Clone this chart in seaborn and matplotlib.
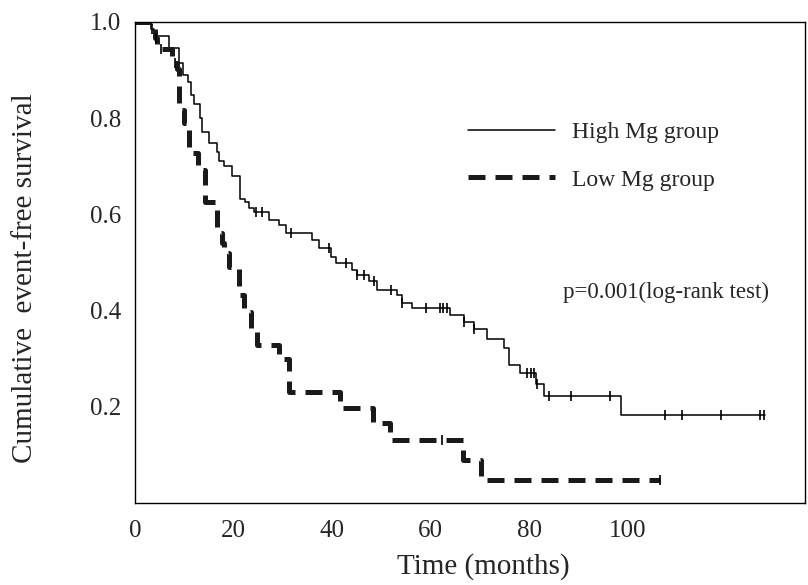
import matplotlib
matplotlib.use("Agg")
import matplotlib.pyplot as plt
import seaborn as sns
import pandas as pd
import numpy as np

# Kaplan-Meier step points (months, survival after the drop)
hi_times = [0, 3.2, 3.8, 6.9, 8.9, 9.8, 10.8, 11.3, 12.0, 13.2, 13.7, 15.1, 16.7, 17.0,
            18.0, 19.7, 21.4, 22.4, 23.1, 24.1, 27.2, 29.2, 30.6, 36.0, 37.3, 39.8, 40.8,
            44.0, 45.0, 47.4, 49.1, 53.2, 54.2, 56.2, 64.0, 66.7, 68.8, 71.4, 74.8, 75.9,
            78.2, 81.3, 83.0, 98.7]
hi_surv = [1.0, 0.985, 0.97, 0.945, 0.914, 0.89, 0.876, 0.848, 0.83, 0.80, 0.772, 0.748,
           0.73, 0.71, 0.70, 0.68, 0.633, 0.626, 0.613, 0.606, 0.588, 0.577, 0.561, 0.547,
           0.530, 0.512, 0.498, 0.484, 0.474, 0.462, 0.443, 0.432, 0.415, 0.405, 0.391,
           0.376, 0.361, 0.341, 0.322, 0.286, 0.270, 0.247, 0.222, 0.183]
hi_end = 127.8
hi_censored = [3.5, 24.5, 25.7, 31.6, 39.4, 42.9, 45.1, 46.4, 48.6, 51.9, 54.2, 59.0, 62.0,
               62.6, 63.3, 66.7, 68.9, 79.6, 80.3, 81.0, 81.6, 84.1, 88.6, 96.5, 107.6,
               111.0, 119.0, 126.9, 127.6]

lo_times = [0, 4.0, 4.5, 7.6, 8.6, 8.9, 9.9, 11.0, 12.8, 14.3, 16.7, 17.7, 18.0, 19.0,
            21.1, 22.2, 23.5, 24.8, 29.2, 31.2, 41.7, 48.3, 51.8, 66.6, 70.3]
lo_surv = [1.0, 0.966, 0.944, 0.914, 0.903, 0.817, 0.789, 0.727, 0.692, 0.626, 0.561,
           0.54, 0.519, 0.49, 0.432, 0.398, 0.363, 0.328, 0.30, 0.231, 0.197, 0.166,
           0.131, 0.089, 0.048]
lo_end = 106.6
lo_censored = [4.2, 5.2, 8.2, 62.3, 106.6]

groups = ["High Mg group", "Low Mg group"]
x_ticks = [0, 20, 40, 60, 80, 100]
y_ticks = [0.0, 0.2, 0.4, 0.6, 0.8, 1.0]
y_ticklabels = ["", "0.2", "0.4", "0.6", "0.8", "1.0"]


def step_frame(times, surv, end):
    # add the last follow-up point so the final plateau is drawn
    return pd.DataFrame({"time": list(times) + [end], "surv": list(surv) + [surv[-1]]})


def surv_at(times, surv, t):
    idx = np.searchsorted(np.array(times), np.array(t), side="right") - 1
    return np.array(surv)[idx]


sns.set_style("white")
plt.rcParams["font.family"] = ["Liberation Serif", "DejaVu Serif"]

fig = plt.figure(figsize=(8.08, 5.85), dpi=100)
ax = fig.add_axes([135 / 808, 82 / 585, 670 / 808, 481 / 585])

hi_df = step_frame(hi_times, hi_surv, hi_end)
lo_df = step_frame(lo_times, lo_surv, lo_end)

sns.lineplot(data=hi_df, x="time", y="surv", ax=ax, color="black", lw=1.1,
             drawstyle="steps-post", estimator=None, sort=False, label=groups[0])
sns.lineplot(data=lo_df, x="time", y="surv", ax=ax, color="#1a1a1a", lw=3.6,
             drawstyle="steps-post", estimator=None, sort=False, label=groups[1],
             linestyle=(0, (3.4, 2.0)))

# censoring marks
ax.plot(hi_censored, surv_at(hi_times, hi_surv, hi_censored), ls="none", marker="|",
        ms=7, mew=1.2, color="black")
ax.plot(lo_censored, surv_at(lo_times, lo_surv, lo_censored), ls="none", marker="|",
        ms=7, mew=1.2, color="black")

ax.set_xlim(0, 136)
ax.set_ylim(0, 1.0)
ax.set_xticks(x_ticks)
ax.set_yticks(y_ticks)
ax.set_yticklabels(y_ticklabels)
ax.tick_params(axis="x", direction="in", length=4, width=0.8, labelsize=18, pad=12)
ax.tick_params(axis="y", direction="out", length=4, width=0.8, labelsize=18, pad=6)
for sp in ax.spines.values():
    sp.set_color("black")
    sp.set_linewidth(1.0)

ax.set_xlabel("Time (months)", fontsize=21)
ax.set_ylabel("Cumulative  event-free survival", fontsize=21)
ax.xaxis.set_label_coords(0.52, -0.105)
ax.yaxis.set_label_coords(-0.145, 0.468)

leg = ax.legend(loc="upper left", bbox_to_anchor=(0.497, 0.793), frameon=False,
                fontsize=17, handlelength=3.7, handletextpad=0.7, labelspacing=1.1,
                borderpad=0, borderaxespad=0)

ax.text(0.639, 0.437, "p=0.001(log-rank test)", transform=ax.transAxes,
        fontsize=16.5, ha="left", va="center")

fig.savefig("out.png", dpi=100)
